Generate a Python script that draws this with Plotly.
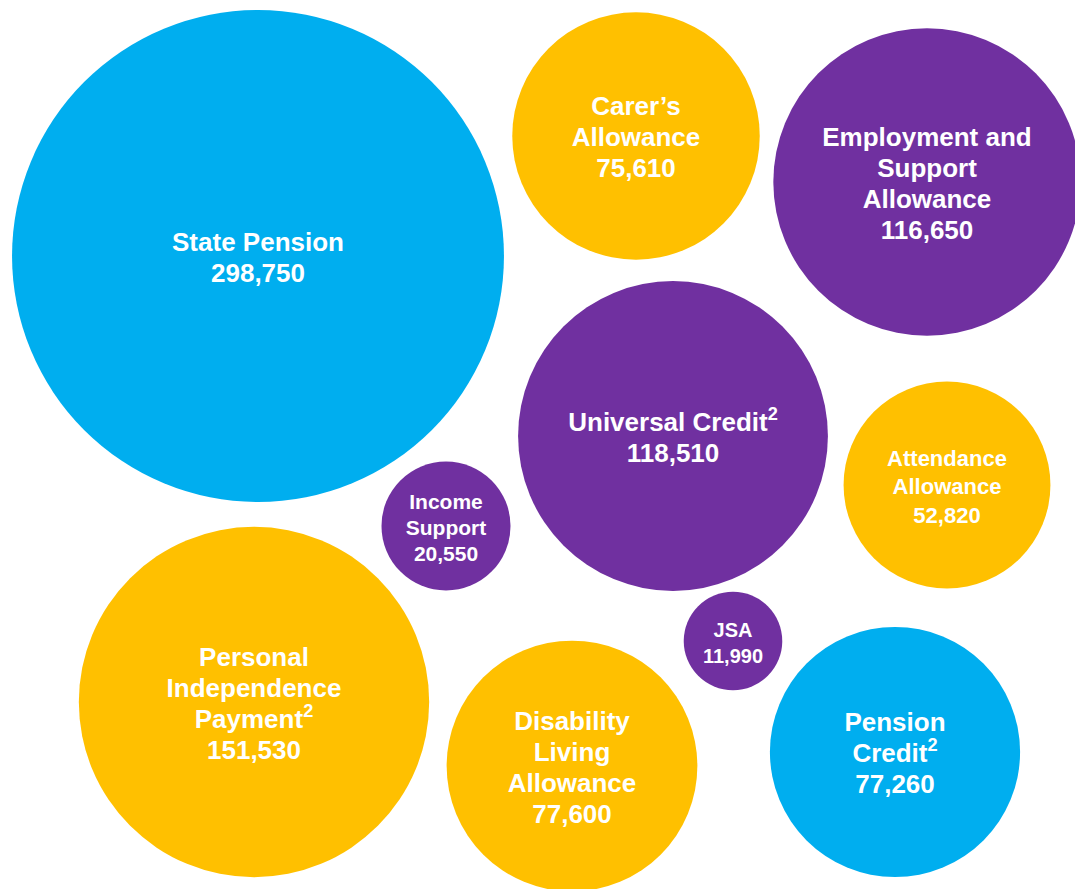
import plotly.graph_objects as go

# Data
labels = [
    "State Pension", "Carer’s<br>Allowance", "Employment and<br>Support<br>Allowance",
    "Universal Credit<sup>2</sup>", "Attendance<br>Allowance", "Income<br>Support",
    "Personal<br>Independence<br>Payment<sup>2</sup>", "Disability<br>Living<br>Allowance",
    "JSA", "Pension<br>Credit<sup>2</sup>",
]
values = [298750, 75610, 116650, 118510, 52820, 20550, 151530, 77600, 11990, 77260]
groups = ["pension", "carer", "esa", "uc", "carer", "esa", "carer", "carer", "esa", "pension"]
# layout positions of bubble centres (packing layout units = page pixels)
pos_x = [258, 636, 927, 673, 947, 446, 254, 572, 733, 895]
pos_y = [256, 136, 182, 436, 485, 526, 702, 766, 641, 752]

palette = {"pension": "#00AEEF", "carer": "#FFC000", "esa": "#7030A0", "uc": "#7030A0"}
font_sizes = [26, 26, 26, 26, 22, 21, 26, 26, 20, 26]
line_gaps = [31, 31, 31, 31, 28.5, 26, 31, 31, 26, 31]
text_drop = 3.5  # small downward nudge of label block

k = 0.45  # px radius per sqrt(value)
sizeref = 1 / (2 * k * k)

fig = go.Figure(go.Scatter(
    x=pos_x, y=pos_y, mode="markers",
    marker=dict(size=values, sizemode="area", sizeref=sizeref,
                color=[palette[g] for g in groups], opacity=1,
                line=dict(width=0)),
    hoverinfo="skip", cliponaxis=False,
))

# labels: one text point per line, stacked around each bubble centre
tx, ty, tt, ts = [], [], [], []
for lab, v, x, y, fs, gap in zip(labels, values, pos_x, pos_y, font_sizes, line_gaps):
    lines = lab.split("<br>") + [f"{v:,}"]
    n = len(lines)
    for i, ln in enumerate(lines):
        tx.append(x)
        ty.append(y + text_drop + (i - (n - 1) / 2) * gap)
        tt.append(f"<b>{ln}</b>")
        ts.append(fs)

fig.add_trace(go.Scatter(
    x=tx, y=ty, mode="text", text=tt, textposition="middle center",
    textfont=dict(family="Arial", color="white", size=ts),
    hoverinfo="skip", cliponaxis=False,
))

fig.update_layout(
    width=1075, height=889,
    margin=dict(l=0, r=0, t=0, b=0),
    paper_bgcolor="white", plot_bgcolor="white",
    showlegend=False,
    xaxis=dict(range=[0, 1075], visible=False, fixedrange=True),
    yaxis=dict(range=[889, 0], visible=False, fixedrange=True),
)

fig.write_html("out.html", config={"displayModeBar": False},
               post_script="document.body.style.margin='0';")
